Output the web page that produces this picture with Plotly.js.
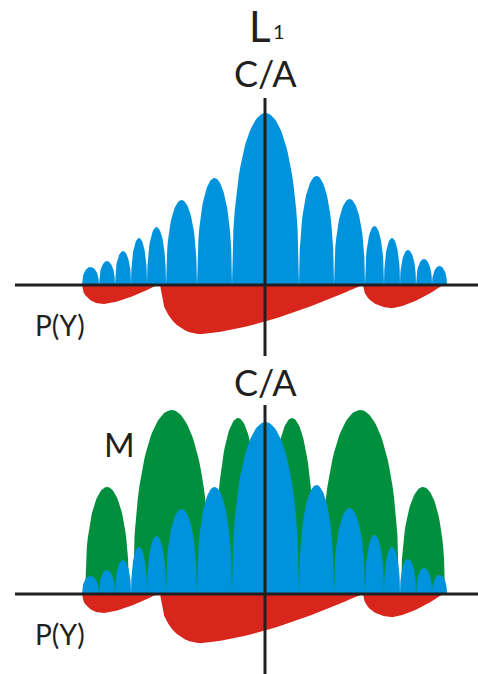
<!DOCTYPE html>
<html>
<head>
<meta charset="utf-8">
<script src="https://cdn.plot.ly/plotly-3.0.1.min.js"></script>
<style>html,body{margin:0;padding:0;background:#fff;}#chart{width:478px;height:674px;}</style>
</head>
<body>
<div id="chart"></div>
<script>
// C/A code spectrum lobes (edges between lobes, relative to carrier centre, and lobe peak heights)
var caEdges = [-183, -166, -150, -134, -118, -99, -68, -33, 34, 69, 100, 119, 135, 151, 167, 182];
var caPeaks = [18, 24, 34, 47, 58, 85, 107, 172, 109, 86, 59, 47, 35, 26, 19];

// M code spectrum lobes (start, end, peak)
var mStart = [-180, -132, -50, 4, 56, 136];
var mEnd   = [-136, -55, -4, 50, 134, 180];
var mPeaks = [107, 184, 176, 176, 184, 107];

// P(Y) code spectrum (drawn below the axis): start, end, position of deepest point, depth
var pyStart = [-183, -105, 98];
var pyEnd   = [-108, 97, 178];
var pyMinX  = [-162, -65, 127];
var pyDepth = [19, 49, 23];

// Text labels
var labelTitleMain = 'L';
var labelTitleSub = '1';
var labelCA = 'C/A';
var labelPY = 'P(Y)';
var labelM = 'M';

var N = 48;
function archTrace(starts, ends, peaks) {
  var xs = [], ys = [];
  for (var k = 0; k < starts.length; k++) {
    var a = starts[k], b = ends[k], h = peaks[k];
    for (var i = 0; i <= N; i++) {
      var t = 2 * i / N - 1;
      xs.push(a + (b - a) * i / N);
      ys.push(h * Math.pow(Math.max(0, 1 - t * t), 0.45));
    }
  }
  return {x: xs, y: ys};
}
function skewTrace(starts, ends, mins, depths) {
  var xs = [], ys = [];
  for (var k = 0; k < starts.length; k++) {
    var a = starts[k], b = ends[k], m = mins[k], d = depths[k];
    for (var i = 0; i <= N; i++) {
      var x = a + (b - a) * i / N, f;
      if (x <= m) { var u = (m - x) / (m - a); f = Math.sqrt(Math.max(0, 1 - u * u)); }
      else { var v = (x - m) / (b - m); f = 1 - Math.pow(v, 1.5); }
      xs.push(x); ys.push(-d * f);
    }
  }
  return {x: xs, y: ys};
}

var caS = caEdges.slice(0, -1), caE = caEdges.slice(1);
var ca = archTrace(caS, caE, caPeaks);
var mm = archTrace(mStart, mEnd, mPeaks);
var py = skewTrace(pyStart, pyEnd, pyMinX, pyDepth);

var BLUE = '#0093DD', GREEN = '#008F3D', RED = '#D8261C', INK = '#231F20';
function tr(d, color, yax) {
  return {x: d.x, y: d.y, yaxis: yax, type: 'scatter', mode: 'lines', fill: 'tozeroy',
    fillcolor: color, line: {width: 0, color: color}, hoverinfo: 'skip', showlegend: false};
}
var data = [
  tr(py, RED, 'y'), tr(ca, BLUE, 'y'),
  tr(py, RED, 'y2'), tr(mm, GREEN, 'y2'), tr(ca, BLUE, 'y2')
];

var W = 478, H = 674;
function px(x) { return x / W; }
function py_(y) { return 1 - y / H; }
var FONT = 'Lato, "Open Sans", sans-serif';
function ann(text, x, y, size) {
  return {text: text, xref: 'paper', yref: 'paper', x: px(x), y: py_(y), xanchor: 'center', yanchor: 'middle',
    showarrow: false, font: {family: FONT, size: size, color: INK}};
}

var layout = {
  width: W, height: H, margin: {l: 0, r: 0, t: 0, b: 0},
  paper_bgcolor: '#fff', plot_bgcolor: '#fff', showlegend: false,
  xaxis: {range: [-265, 213], visible: false, fixedrange: true},
  yaxis: {range: [-389, 285], visible: false, fixedrange: true, domain: [0, 1]},
  yaxis2: {range: [-80, 594], visible: false, fixedrange: true, overlaying: 'y'},
  shapes: [
    {type: 'line', xref: 'x', yref: 'y', x0: -250, x1: 213, y0: 0, y1: 0, line: {color: INK, width: 3}, layer: 'above'},
    {type: 'line', xref: 'x', yref: 'y', x0: 0, x1: 0, y0: -71, y1: 187, line: {color: INK, width: 3}, layer: 'above'},
    {type: 'line', xref: 'x', yref: 'y2', x0: -250, x1: 213, y0: 0, y1: 0, line: {color: INK, width: 3}, layer: 'above'},
    {type: 'line', xref: 'x', yref: 'y2', x0: 0, x1: 0, y0: -80, y1: 189, line: {color: INK, width: 3}, layer: 'above'}
  ],
  annotations: [
    ann(labelTitleMain, 260, 26, 42),
    ann(labelTitleSub, 279, 31, 20),
    ann(labelCA, 265, 73, 36),
    ann(labelCA, 265, 382, 36),
    ann(labelPY, 60, 325, 28),
    ann(labelPY, 60, 634, 28),
    ann(labelM, 119, 444, 33)
  ]
};
Plotly.newPlot('chart', data, layout, {displayModeBar: false, staticPlot: true});
</script>
</body>
</html>
